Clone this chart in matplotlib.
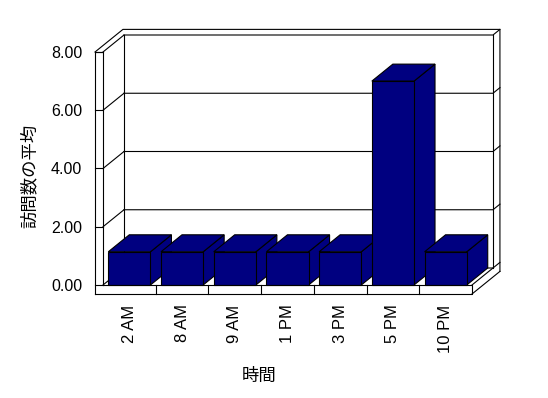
import matplotlib
matplotlib.use("Agg")
import matplotlib.pyplot as plt
from matplotlib.patches import Polygon

plt.rcParams["font.family"] = ["Liberation Sans", "Noto Sans CJK JP", "DejaVu Sans"]

# data
categories = ["2 AM", "8 AM", "9 AM", "1 PM", "3 PM", "5 PM", "10 PM"]
visits = [1.14, 1.14, 1.14, 1.14, 1.14, 7.0, 1.14]
yticks = [0, 2, 4, 6, 8]

# style
NAVY = "#000080"
LW = 0.8
W_PX, H_PX = 548, 398

fig = plt.figure(figsize=(W_PX / 100, H_PX / 100), dpi=100)
# front plane of the 3D box (pixels: x 103..472, y 52..285)
ax = fig.add_axes([103 / W_PX, (H_PX - 285) / H_PX, 369 / W_PX, 233 / H_PX])
ax.set_xlim(-0.5, len(categories) - 0.5)
ax.set_ylim(0, 8)
for s in ax.spines.values():
    s.set_visible(False)
ax.patch.set_visible(False)

# depth offsets in data units
DX, DY = 21 / 52.71, 17 / 29.125     # one unit of depth
T = 0.33                            # wall thickness (depth units)
TX, TY = T * DX, T * DY
W = 8 / 52.71                       # left wall slab width
FH = 9 / 29.125                     # floor slab height
x0, x1, top = -0.5, len(categories) - 0.5, 8


def seg(pts, z=1):
    xs, ys = zip(*pts)
    ax.plot(xs, ys, color="black", lw=LW, clip_on=False, zorder=z,
            solid_capstyle="projecting")


# walls + gridlines
for g in yticks:
    seg([(x0 + DX, g + DY), (x1 + DX, g + DY), (x1 + DX + TX, g + DY + TY)])
    seg([(x0, g), (x0 + DX, g + DY)])
    seg([(x0 - W, g), (x0, g)])
seg([(x0 + DX, DY), (x0 + DX, top + DY)])
seg([(x1 + DX, DY), (x1 + DX, top + DY)])
seg([(x0 - W, top), (x0 - W + DX + TX, top + DY + TY), (x1 + DX + TX, top + DY + TY),
     (x1 + DX + TX, -FH + DY + TY)])
# left wall slab front
seg([(x0 - W, -FH), (x0 - W, top), (x0, top), (x0, 0)])
# floor slab
seg([(x0 - W, -FH), (x1, -FH), (x1, 0), (x0, 0)], z=50)
seg([(x1, -FH), (x1 + DX + TX, -FH + DY + TY)])
seg([(x1, 0), (x1 + DX, DY)])
for i in range(1, len(categories)):
    seg([(x0 + i, -FH), (x0 + i, 0)], z=50)

# 3D bars
bw = 0.8
for i, v in enumerate(visits):
    z = 10 + 3 * i
    l, r = i - bw / 2, i + bw / 2
    side = Polygon([(r, 0), (r, v), (r + DX, v + DY), (r + DX, DY)], closed=True,
                   facecolor=NAVY, edgecolor="black", lw=LW, clip_on=False, zorder=z)
    topf = Polygon([(l, v), (r, v), (r + DX, v + DY), (l + DX, v + DY)], closed=True,
                   facecolor=NAVY, edgecolor="black", lw=LW, clip_on=False, zorder=z)
    ax.add_patch(side)
    ax.add_patch(topf)
    ax.bar(i, v, width=bw, color=NAVY, edgecolor="black", lw=LW, zorder=z + 1,
           clip_on=False)

ax.set_yticks(yticks, [f"{v:.2f}" for v in yticks])
ax.set_xticks(range(len(categories)), categories, rotation=90)
ax.tick_params(axis="y", length=0, pad=15, labelsize=11.5)
ax.tick_params(axis="x", length=0, pad=14, labelsize=12)

fig.text(30 / W_PX, 1 - 176 / H_PX, "訪問数の平均", rotation=90, ha="center",
         va="center", fontsize=12.5, family=["Noto Sans CJK JP"])
fig.text(259 / W_PX, 1 - 376 / H_PX, "時間", ha="center", va="center",
         fontsize=12.5, family=["Noto Sans CJK JP"])

fig.savefig("out.png", dpi=100)
